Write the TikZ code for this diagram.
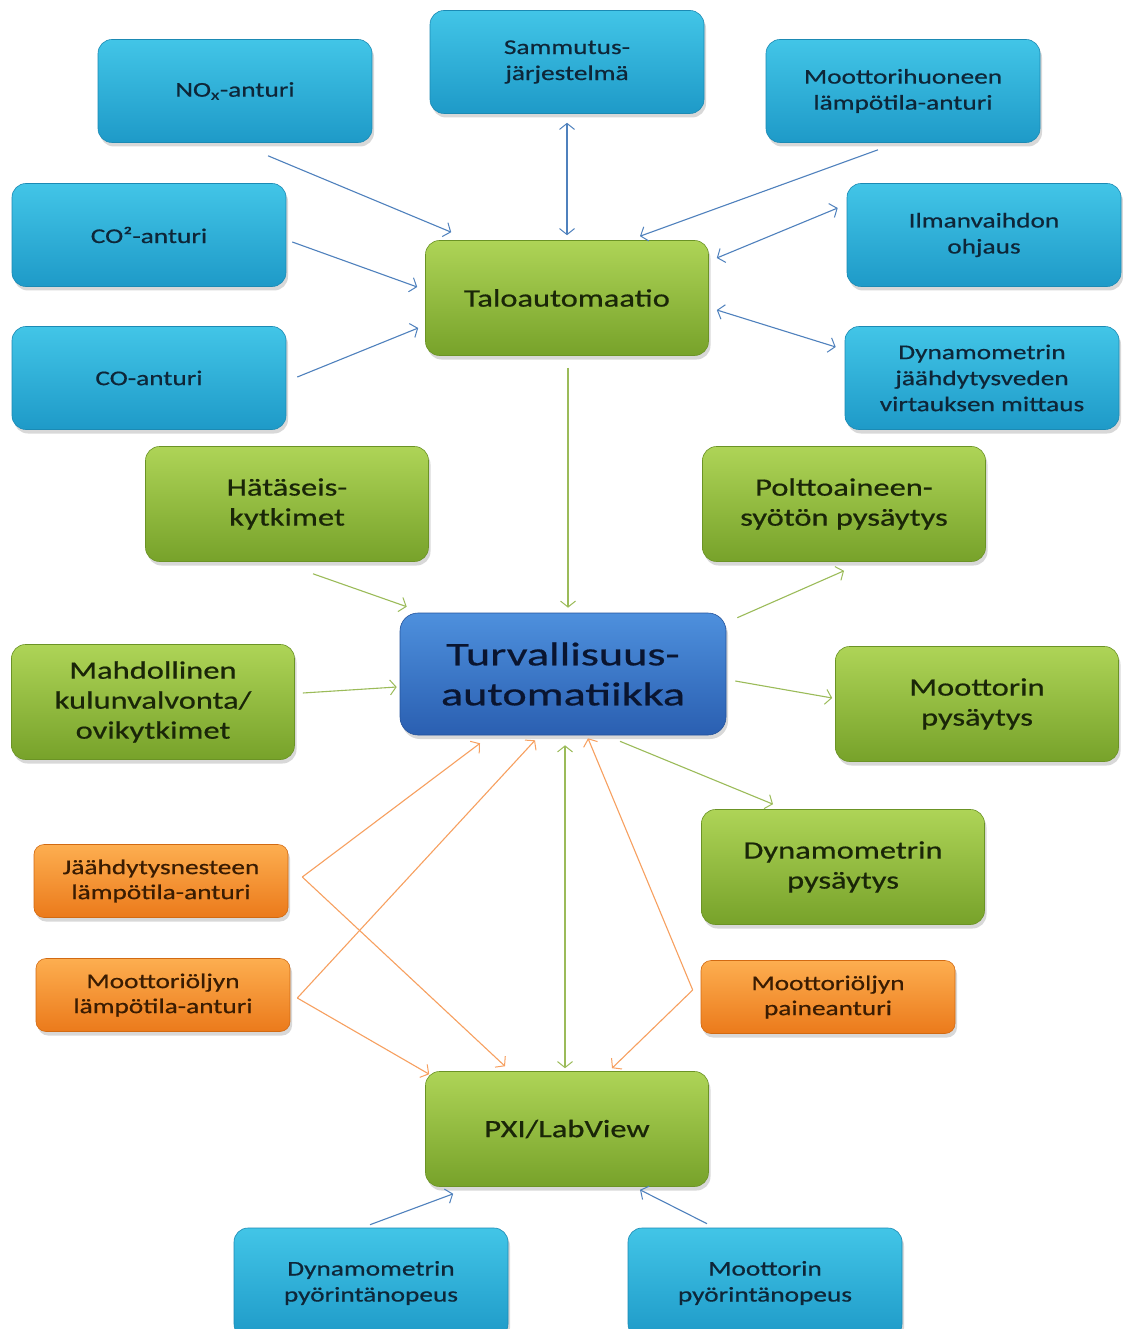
\documentclass[tikz,border=0pt]{standalone}
\usepackage{fontspec}
\setmainfont{Carlito}[FakeStretch=1.3, FakeBold=0.6]
\newfontfamily\turvafont{Carlito}[FakeStretch=1.4, FakeBold=0.6]
\usepackage{tikz}
\usetikzlibrary{arrows.meta,shadows,calc}

\definecolor{sensorTop}{HTML}{42C5E7}
\definecolor{sensorBot}{HTML}{1E9AC8}
\definecolor{sensorEdge}{HTML}{1B8AB4}
\definecolor{sensorText}{HTML}{0E2638}
\definecolor{ctrlTop}{HTML}{AED457}
\definecolor{ctrlBot}{HTML}{77A22A}
\definecolor{ctrlEdge}{HTML}{6B9325}
\definecolor{ctrlText}{HTML}{1A2608}
\definecolor{oilTop}{HTML}{FDAE50}
\definecolor{oilBot}{HTML}{EB7A1B}
\definecolor{oilEdge}{HTML}{D26A12}
\definecolor{oilText}{HTML}{3A1C02}
\definecolor{turvaTop}{HTML}{4E90DD}
\definecolor{turvaBot}{HTML}{2A5FB1}
\definecolor{turvaEdge}{HTML}{24539C}
\definecolor{turvaText}{HTML}{0A1530}
\definecolor{blueLink}{HTML}{4F81BD}
\definecolor{greenLink}{HTML}{9BBB59}
\definecolor{orangeLink}{HTML}{F7A060}

\tikzset{
  box/.style={rounded corners=14pt, align=center, inner sep=2pt, line width=.6pt,
    drop shadow={shadow xshift=2pt, shadow yshift=-4pt, opacity=.3}},
  sensor/.style={box, top color=sensorTop, bottom color=sensorBot, draw=sensorEdge,
    text=sensorText, font=\fontsize{21}{26}\selectfont, minimum width=274pt, minimum height=103pt},
  ctrl/.style={box, top color=ctrlTop, bottom color=ctrlBot, draw=ctrlEdge,
    text=ctrlText, font=\fontsize{25}{30}\selectfont, minimum width=283pt, minimum height=115pt},
  oil/.style={box, rounded corners=10pt, top color=oilTop, bottom color=oilBot, draw=oilEdge,
    text=oilText, font=\fontsize{21}{25}\selectfont, minimum width=254pt, minimum height=73pt},
  turvabox/.style={box, rounded corners=18pt, top color=turvaTop, bottom color=turvaBot, draw=turvaEdge,
    text=turvaText, font=\turvafont\fontsize{33}{40}\selectfont, minimum width=326pt, minimum height=122pt},
  tip/.tip={Straight Barb[length=6pt,width=15pt,line width=1pt]},
  link/.style={line width=1.1pt, -tip},
  bilink/.style={line width=1.1pt, tip-tip},
}

\begin{document}
\begin{tikzpicture}[x=1pt, y=-1pt]
  \useasboundingbox[fill=white] (0,0) rectangle (1123,1329);

  % sensors around the building automation
  \node[sensor] (nox)    at (235,91)  {NO\textsubscript{x}-anturi};
  \node[sensor] (samm)   at (567,62)  {Sammutus-\\järjestelmä};
  \node[sensor] (mhuone) at (903,91)  {Moottorihuoneen\\lämpötila-anturi};
  \node[sensor] (co2)    at (149,235) {CO²-anturi};
  \node[sensor] (ilma)   at (984,235) {Ilmanvaihdon\\ohjaus};
  \node[sensor] (co)     at (149,378) {CO-anturi};
  \node[sensor] (dyno)   at (982,378) {Dynamometrin\\jäähdytysveden\\virtauksen mittaus};
  \node[ctrl]   (talo)   at (567,298) {Taloautomaatio};

  % safety automation
  \node[ctrl]     (hata)   at (287,504) {Hätäseis-\\kytkimet};
  \node[ctrl]     (poltto) at (844,504) {Polttoaineen-\\syötön pysäytys};
  \node[turvabox] (turva)  at (563,674) {Turvallisuus-\\automatiikka};
  \node[ctrl]     (kulku)  at (153,702) {Mahdollinen\\kulunvalvonta/\\ovikytkimet};
  \node[ctrl]     (mpys)   at (977,704) {Moottorin\\pysäytys};
  \node[ctrl]     (dpys)   at (843,867) {Dynamometrin\\pysäytys};

  % engine sensors
  \node[oil] (jaah)  at (161,881) {Jäähdytysnesteen\\lämpötila-anturi};
  \node[oil] (oljy)  at (163,995) {Moottoriöljyn\\lämpötila-anturi};
  \node[oil] (paine) at (828,997) {Moottoriöljyn\\paineanturi};

  % measurement
  \node[ctrl]   (pxi)  at (567,1129) {PXI/LabView};
  \node[sensor, minimum height=110pt] (dnop) at (371,1283) {Dynamometrin\\pyörintänopeus};
  \node[sensor, minimum height=110pt] (mnop) at (765,1283) {Moottorin\\pyörintänopeus};

  \coordinate (j1) at ($(jaah.east)+(14,-4)$);
  \coordinate (j2) at ($(oljy.east)+(7,3)$);
  \coordinate (j3) at ($(paine.west)+(-8,-7)$);

  \path[link, blueLink]
  ($(nox.south)+(33,13)$) edge ($(talo.north west)+(26,-8)$)
  ($(co2.east)+(6,7)$) edge ($(talo.west)+(-8,-11)$)
  ($(co.east)+(11,-1)$) edge ($(talo.west)+(-7,30)$)
  ($(mhuone.south)+(-25,7)$) edge ($(talo.north)+(73,-4)$)
  ($(dnop.north)+(-1,-3)$) edge ($(pxi.south west)+(28,7)$)
  ($(mnop.north)+(-58,-4)$) edge ($(pxi.south)+(73,3)$);
  \path[bilink, blueLink]
  ($(samm.south)+(0,9)$) edge ($(talo.north)+(0,-5)$)
  ($(talo.east)+(8,-40)$) edge ($(ilma.west)+(-9,-27)$)
  ($(talo.east)+(8,12)$) edge ($(dyno.west)+(-9,-31)$);

  \path[link, greenLink]
  ($(talo.south)+(1,12)$) edge ($(turva.north)+(5,-5)$)
  ($(hata.south)+(26,12)$) edge ($(turva.north west)+(7,-6)$)
  ($(kulku.east)+(8,-9)$) edge ($(turva.west)+(-3,13)$)
  ($(turva.north east)+(11,5)$) edge ($(poltto.south)+(0,9)$)
  ($(turva.east)+(9,7)$) edge ($(mpys.west)+(-3,-6)$)
  ($(turva.south)+(57,6)$) edge ($(dpys.north)+(-70,-5)$);
  \path[bilink, greenLink]
  ($(turva.south)+(2,10)$) edge ($(pxi.north)+(-2,-3)$);

  \path[link, orangeLink]
  (j1) edge ($(turva.south)+(-83,8)$)
       edge ($(pxi.north)+(-62,-5)$)
  (j2) edge ($(turva.south)+(-28,5)$)
       edge ($(pxi.north west)+(4,3)$)
  (j3) edge ($(turva.south)+(25,3)$)
       edge ($(pxi.north)+(45,-3)$);
\end{tikzpicture}
\end{document}
